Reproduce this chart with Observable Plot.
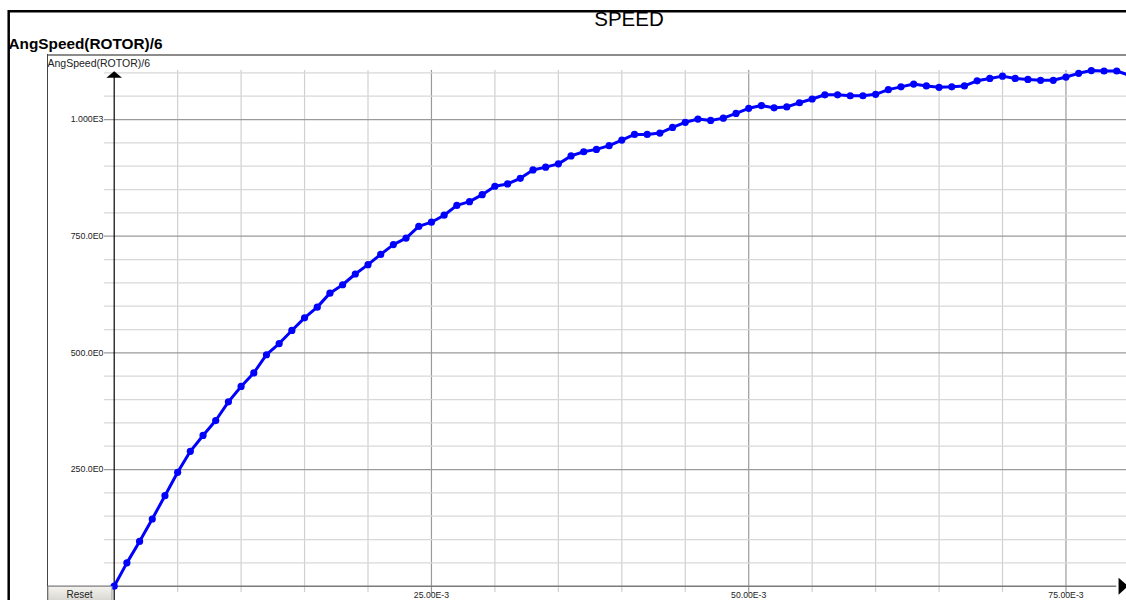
<!DOCTYPE html>
<html><head><meta charset="utf-8">
<script src="https://cdn.jsdelivr.net/npm/d3@7"></script>
<script src="https://cdn.jsdelivr.net/npm/@observablehq/plot@0.6"></script>
<style>
html,body{margin:0;padding:0;background:#fff;overflow:hidden}
#wrap{position:relative;width:1126px;height:600px;overflow:hidden;background:#fff;font-family:"Liberation Sans",Arial,sans-serif}
#wrap > svg{position:absolute;left:0;top:0}
</style></head><body><div id="wrap"></div>
<script>
// ---- data ----
const title = "SPEED";
const yLabel = "AngSpeed(ROTOR)/6";
const timeMs = [0,1,2,3,4,5,6,7,8,9,10,11,12,13,14,15,16,17,18,19,20,21,22,23,24,25,26,27,28,29,30,
  31,32,33,34,35,36,37,38,39,40,41,42,43,44,45,46,47,48,49,50,51,52,53,54,55,56,57,58,59,60,
  61,62,63,64,65,66,67,68,69,70,71,72,73,74,75,76,77,78,79,80];
const angSpeed = [0,50,96,144,194,244,289,323,355,395,428,457,496,520,548,575,598,628,646,669,689,
  711,732,746,771,780,795,816,824,839,857,862,874,892,898,905,922,931,936,944,956,
  968,968,971,983,994,1001,998,1003,1013,1024,1030,1025,1027,1036,1044,1053,1053,1051,1051,1054,
  1064,1070,1076,1072,1069,1070,1072,1083,1088,1093,1088,1086,1084,1084,1091,1099,1105,1104,1104,1095];
const yGrid = [50,100,150,200,250,300,350,400,450,500,550,600,650,700,750,800,850,900,950,1000,1050,1100];
const yMajor = [250,500,750,1000];
const yTickLabels = ["250.0E0","500.0E0","750.0E0","1.000E3"];
const xGrid = [5,10,15,20,25,30,35,40,45,50,55,60,65,70,75];
const xMajor = [25,50,75];
const xTickLabels = ["25.00E-3","50.00E-3","75.00E-3"];

const data = timeMs.map((t, i) => ({t, v: angSpeed[i]}));
const yMinor = yGrid.filter(v => !yMajor.includes(v));
const xMinor = xGrid.filter(v => !xMajor.includes(v));

const upArrow = {draw(ctx){ ctx.moveTo(0,-3.2); ctx.lineTo(7.8,3.2); ctx.lineTo(-7.8,3.2); ctx.closePath(); }};
const rightArrow = {draw(ctx){ ctx.moveTo(-4,-8.5); ctx.lineTo(5.5,0); ctx.lineTo(-4,8.5); ctx.closePath(); }};

const chart = Plot.plot({
  width: 1126, height: 600,
  marginLeft: 104, marginRight: 0, marginTop: 55, marginBottom: 14.3,
  x: {domain: [-0.764, 79.77], axis: null},
  y: {domain: [0, 1137.2], axis: null},
  style: {background: "transparent", fontFamily: "'Liberation Sans', Arial, sans-serif", color: "#222"},
  marks: [
    Plot.ruleX(xMinor, {y1: -13.5, y2: 1105, stroke: "#d0d0d0", strokeWidth: 1.2}),
    Plot.ruleX(xMajor, {y1: -15.5, y2: 1105, stroke: "#9a9a9a", strokeWidth: 1.2}),
    Plot.ruleY(yMinor, {stroke: "#d8d8d8", strokeWidth: 1.3}),
    Plot.ruleY(yMajor, {stroke: "#9a9a9a", strokeWidth: 1.3}),
    Plot.ruleY([0], {x1: -5.26, x2: 79.0, stroke: "#7a7a7a", strokeWidth: 1.6}),
    Plot.ruleX([0], {y1: -31, y2: 1097, stroke: "#000", strokeWidth: 1.2}),
    Plot.axisY(yMajor, {tickSize: 0, tickPadding: 1, fontSize: 8.8, fill: "#222",
      tickFormat: d => yTickLabels[yMajor.indexOf(d)]}),
    Plot.axisX(xMajor, {tickSize: 0, tickPadding: 6, fontSize: 8.7, fill: "#222",
      tickFormat: d => xTickLabels[xMajor.indexOf(d)]}),
    Plot.line(data, {x: "t", y: "v", stroke: "#0000ff", strokeWidth: 3}),
    Plot.dot(data, {x: "t", y: "v", fill: "#0000ff", r: 3.6}),
    Plot.dot([{x: 0, y: 1096.4}], {x: "x", y: "y", symbol: upArrow, fill: "#000", r: 4}),
    Plot.dot([{x: 79.46, y: 0}], {x: "x", y: "y", symbol: rightArrow, fill: "#000", r: 4})
  ]
});
document.getElementById("wrap").appendChild(chart);

// ---- decorations (frames, title, labels, button) ----
const svg = d3.select("#wrap").append("svg").attr("width", 1126).attr("height", 600)
  .style("pointer-events", "none");
const defs = svg.append("defs");
const g = defs.append("linearGradient").attr("id", "btn").attr("x1", 0).attr("y1", 0).attr("x2", 0).attr("y2", 1);
g.append("stop").attr("offset", "0%").attr("stop-color", "#f4f3ee");
g.append("stop").attr("offset", "100%").attr("stop-color", "#d6d5cf");

svg.append("line").attr("x1", 8.7).attr("x2", 1126).attr("y1", 11.3).attr("y2", 11.3).attr("stroke", "#000").attr("stroke-width", 2.5);
svg.append("line").attr("x1", 8.7).attr("x2", 8.7).attr("y1", 10).attr("y2", 600).attr("stroke", "#000").attr("stroke-width", 2.5);
svg.append("line").attr("x1", 47).attr("x2", 1126).attr("y1", 55).attr("y2", 55).attr("stroke", "#8c8c8c").attr("stroke-width", 2);
svg.append("line").attr("x1", 47.5).attr("x2", 47.5).attr("y1", 54).attr("y2", 600).attr("stroke", "#444").attr("stroke-width", 1);

svg.append("text").attr("x", 629).attr("y", 25.5).attr("text-anchor", "middle")
  .attr("font-family", "'Liberation Sans', Arial, sans-serif").attr("font-size", 20.5).attr("fill", "#000").text(title);
svg.append("text").attr("x", 8.5).attr("y", 48.5).attr("textLength", 154).attr("lengthAdjust", "spacingAndGlyphs")
  .attr("font-family", "'Liberation Sans', Arial, sans-serif").attr("font-size", 15.5).attr("font-weight", "bold").attr("fill", "#000").text(yLabel);
svg.append("text").attr("x", 47.5).attr("y", 67)
  .attr("font-family", "'Liberation Sans', Arial, sans-serif").attr("font-size", 10.5).attr("fill", "#222").text(yLabel);

svg.append("rect").attr("x", 48).attr("y", 586.5).attr("width", 64).attr("height", 15)
  .attr("fill", "url(#btn)").attr("stroke", "#9a9a9a").attr("stroke-width", 1);
svg.append("text").attr("x", 79.5).attr("y", 597.5).attr("text-anchor", "middle")
  .attr("font-family", "'Liberation Sans', Arial, sans-serif").attr("font-size", 10).attr("fill", "#222").text("Reset");
</script>
</body></html>
